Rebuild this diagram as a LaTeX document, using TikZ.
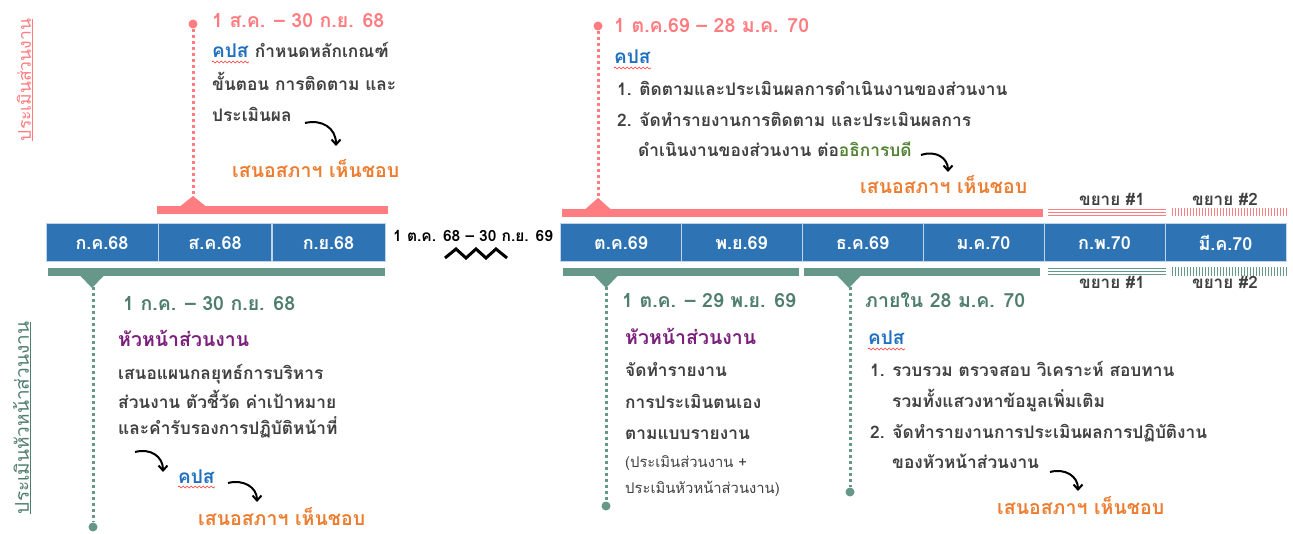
\documentclass[tikz,border=0pt]{standalone}
\usepackage{fontspec}
\setmainfont[Script=Thai]{Loma}
\usetikzlibrary{arrows.meta,decorations.pathmorphing}
\definecolor{cRed}{HTML}{FF7C80}
\definecolor{cGreen}{HTML}{66988A}
\definecolor{cGreenT}{HTML}{4F7D6E}
\definecolor{cBlue}{HTML}{2E74B5}
\definecolor{cLink}{HTML}{1F6FC1}
\definecolor{cOrange}{HTML}{ED7D31}
\definecolor{cPurple}{HTML}{7A1F7C}
\definecolor{cDG}{HTML}{548235}
\definecolor{cText}{HTML}{404040}
\begin{document}
\begin{tikzpicture}[x=1pt,y=-1pt,
  month/.style={draw=white!70!cBlue, line width=1pt, fill=cBlue, text=white,
    minimum height=38pt, inner sep=0, font=\fontsize{18}{20}\selectfont\bfseries},
  bar/.style={minimum height=8pt, inner sep=0},
  txt/.style={anchor=base west, inner sep=0, font=\fontsize{17.3}{20}\selectfont\bfseries, text=cText},
  datered/.style={txt, font=\fontsize{19.5}{22}\selectfont\bfseries, text=cRed},
  dategreen/.style={txt, font=\fontsize{19.5}{22}\selectfont\bfseries, text=cGreenT},
  kps/.style={txt, font=\fontsize{19}{22}\selectfont\bfseries, text=cLink},
  head/.style={txt, font=\fontsize{19.5}{22}\selectfont\bfseries, text=cPurple},
  approve/.style={txt, font=\fontsize{19.5}{22}\selectfont\bfseries, text=cOrange},
  small/.style={txt, font=\fontsize{14.8}{17}\selectfont},
  extlbl/.style={anchor=base, inner sep=0, font=\fontsize{17}{19}\selectfont\bfseries, text=cText},
  reddots/.style={cRed, line width=3pt, dash pattern=on 3pt off 3pt},
  greendots/.style={cGreen, line width=3pt, dash pattern=on 3pt off 3pt},
  dotnode/.style={circle, minimum size=9pt, inner sep=0},
  curvearrow/.style={-{Straight Barb[length=5pt,width=9pt]}, line width=2pt, black},
  squiggle/.style={red!80, line width=0.6pt, decorate, decoration={snake, amplitude=1pt, segment length=4pt}},
  vlabel/.style={rotate=90, inner sep=0}
]
\useasboundingbox (0,0) rectangle (1293,534);

% ---------- month boxes ----------
\node[month, minimum width=112pt] (m1) at (102,243) {ก.ค.68};
\node[month, minimum width=113pt] (m2) at (215,243) {ส.ค.68};
\node[month, minimum width=113pt] (m3) at (328.5,243) {ก.ย.68};
\node[month, minimum width=121pt] (m4) at (621,243) {ต.ค.69};
\node[month, minimum width=121pt] (m5) at (741.5,243) {พ.ย.69};
\node[month, minimum width=121pt] (m6) at (862.5,243) {ธ.ค.69};
\node[month, minimum width=121pt] (m7) at (983.5,243) {ม.ค.70};
\node[month, minimum width=121pt] (m8) at (1104.5,243) {ก.พ.70};
\node[month, minimum width=121pt] (m9) at (1225.5,243) {มี.ค.70};

% gap label and zigzag
\node[anchor=base west, inner sep=0, font=\fontsize{15.5}{18}\selectfont\bfseries] (gap) at (393,242) {1 ต.ค. 68 -- 30 ก.ย. 69};
\draw[line width=3pt, miter limit=4] (445,258) -- (456,249) -- (466,258) -- (476,249) -- (486,258) -- (496,249) -- (507,258);

% ---------- bars ----------
\node[bar, fill=cRed, minimum width=231pt] (rb1) at (272.5,210) {};
\node[bar, fill=cRed, minimum width=481pt] (rb2) at (802.5,213) {};
\node[bar, fill=cGreen, minimum width=337pt] (gb1) at (216.5,272) {};
\node[bar, fill=cGreen, minimum width=236pt] (gb2) at (681,272) {};
\node[bar, fill=cGreen, minimum width=236pt] (gb3) at (922,272) {};

% triangles
\fill[cRed] (180,206.5) -- (193,196) -- (206,206.5) -- cycle;
\fill[cRed] (585,209.5) -- (598,198) -- (611,209.5) -- cycle;
\fill[cGreen] (80,275.5) -- (92,288) -- (104,275.5) -- cycle;
\fill[cGreen] (594,275.5) -- (606,288) -- (618,275.5) -- cycle;
\fill[cGreen] (837,275.5) -- (849,288) -- (861,275.5) -- cycle;

\coordinate (t1) at (193,197);
\coordinate (t2) at (598,199);
\coordinate (t3) at (93,287);
\coordinate (t4) at (606,287);
\coordinate (t5) at (850,287);

% dots
\node[dotnode, fill=cRed] (d1) at (193,24) {};
\node[dotnode, fill=cRed] (d2) at (598,26) {};
\node[dotnode, fill=cGreen] (d3) at (93,527) {};
\node[dotnode, fill=cGreen] (d4) at (606,506) {};
\node[dotnode, fill=cGreen] (d5) at (850,492) {};

\draw[reddots] (d1) -- (t1);
\draw[reddots] (d2) -- (t2);
\draw[greendots] (t3) -- (d3);
\draw[greendots] (t4) -- (d4);
\draw[greendots] (t5) -- (d5);

% ---------- extensions ----------
\foreach \yy in {209.5,212.5,215.5} \draw[cRed, line width=1.1pt] (1048,\yy) -- (1166,\yy);
\foreach \xx in {1172,1175,...,1288} \draw[cRed, line width=1pt] (\xx,208.5) -- (\xx,216.5);
\foreach \yy in {268.5,271.5,274.5} \draw[cGreen, line width=1.1pt] (1048,\yy) -- (1166,\yy);
\foreach \xx in {1172,1175,...,1288} \draw[cGreen, line width=1pt] (\xx,267.5) -- (\xx,276);
\node[extlbl] (x1a) at (1112,206) {ขยาย \#1};
\node[extlbl] (x2a) at (1225,206) {ขยาย \#2};
\node[extlbl] (x1b) at (1112,289) {ขยาย \#1};
\node[extlbl] (x2b) at (1225,289) {ขยาย \#2};

% ---------- vertical labels ----------
\node[vlabel, text=cRed, font=\fontsize{17.5}{20}\selectfont] (v1) at (25,80) {\underline{ประเมินส่วนงาน}};
\node[vlabel, text=cGreenT, font=\fontsize{19}{22}\selectfont] (v2) at (22,418) {\underline{ประเมินหัวหน้าส่วนงาน}};

% ---------- top-left block ----------
\node[datered] (tl0) at (212,28) {1 ส.ค. -- 30 ก.ย. 68};
\node[kps] (tl1k) at (212,58) {คปส};
\node[txt] (tl1) at ([xshift=6pt]tl1k.base east) {กำหนดหลักเกณฑ์};
\node[txt] (tl2) at (212,91) {ขั้นตอน การติดตาม และ};
\node[txt] (tl3) at (212,122) {ประเมินผล};
\node[approve] (tl4) at (232,178) {เสนอสภาฯ เห็นชอบ};
\coordinate (a1s) at (305,123);
\coordinate (a1e) at (336,146);
\draw[curvearrow] (a1s) .. controls (322,119) and (336,128) .. (a1e);

% ---------- top-right block ----------
\node[datered] (tr0) at (614,33) {1 ต.ค.69 -- 28 ม.ค. 70};
\node[kps] (tr1) at (614,64) {คปส};
\node[txt] (tr2) at (617,96) {1. ติดตามและประเมินผลการดำเนินงานของส่วนงาน};
\node[txt] (tr3) at (617,127) {2. จัดทำรายงานการติดตาม และประเมินผลการ};
\node[txt] (tr4) at (638,157) {ดำเนินงานของส่วนงาน ต่อ\textcolor{cDG}{อธิการบดี}};
\node[approve] (tr5) at (860,194) {เสนอสภาฯ เห็นชอบ};
\coordinate (a2s) at (921,155);
\coordinate (a2e) at (948,172);
\draw[curvearrow] (a2s) .. controls (936,150) and (948,158) .. (a2e);

% ---------- bottom-left block ----------
\node[dategreen] (bl0) at (123,311) {1 ก.ค. -- 30 ก.ย. 68};
\node[head] (bl1) at (118,347) {หัวหน้าส่วนงาน};
\node[txt] (bl2) at (118,380) {เสนอแผนกลยุทธ์การบริหาร};
\node[txt] (bl3) at (118,408) {ส่วนงาน ตัวชี้วัด ค่าเป้าหมาย};
\node[txt] (bl4) at (118,435) {และคำรับรองการปฏิบัติหน้าที่};
\node[kps] (bl5) at (178,483) {คปส};
\node[approve] (bl6) at (198,525) {เสนอสภาฯ เห็นชอบ};
\coordinate (a3s) at (135,452);
\coordinate (a3e) at (163,472);
\draw[curvearrow] (a3s) .. controls (150,448) and (163,456) .. (a3e);
\coordinate (a4s) at (228,483);
\coordinate (a4e) at (257,502);
\draw[curvearrow] (a4s) .. controls (243,479) and (257,487) .. (a4e);

% ---------- bottom-middle block ----------
\node[dategreen] (bm0) at (622,308) {1 ต.ค. -- 29 พ.ย. 69};
\node[head] (bm1) at (625,345) {หัวหน้าส่วนงาน};
\node[txt] (bm2) at (625,377) {จัดทำรายงาน};
\node[txt] (bm3) at (625,408) {การประเมินตนเอง};
\node[txt] (bm4) at (625,439) {ตามแบบรายงาน};
\node[small] (bm5) at (625,467) {(ประเมินส่วนงาน +};
\node[small] (bm6) at (625,493) {ประเมินหัวหน้าส่วนงาน)};

% ---------- bottom-right block ----------
\node[dategreen] (br0) at (865,308) {ภายใน 28 ม.ค. 70};
\node[kps] (br1) at (868,345) {คปส};
\node[txt] (br2) at (870,377) {1. รวบรวม ตรวจสอบ วิเคราะห์ สอบทาน};
\node[txt] (br3) at (892,407) {รวมทั้งแสวงหาข้อมูลเพิ่มเติม};
\node[txt] (br4) at (870,438) {2. จัดทำรายงานการประเมินผลการปฏิบัติงาน};
\node[txt] (br5) at (892,468) {ของหัวหน้าส่วนงาน};
\node[approve] (br6) at (997,514) {เสนอสภาฯ เห็นชอบ};
\coordinate (a5s) at (1050,472);
\coordinate (a5e) at (1078,491);
\draw[curvearrow] (a5s) .. controls (1065,468) and (1078,476) .. (a5e);

% spell-check squiggles under คปส
\draw[squiggle] ([yshift=-4pt]tl1k.base west) -- ([yshift=-4pt]tl1k.base east);
\draw[squiggle] ([yshift=-4pt]tr1.base west) -- ([yshift=-4pt]tr1.base east);
\draw[squiggle] ([yshift=-4pt]bl5.base west) -- ([yshift=-4pt]bl5.base east);
\draw[squiggle] ([yshift=-4pt]br1.base west) -- ([yshift=-4pt]br1.base east);
\end{tikzpicture}
\end{document}
